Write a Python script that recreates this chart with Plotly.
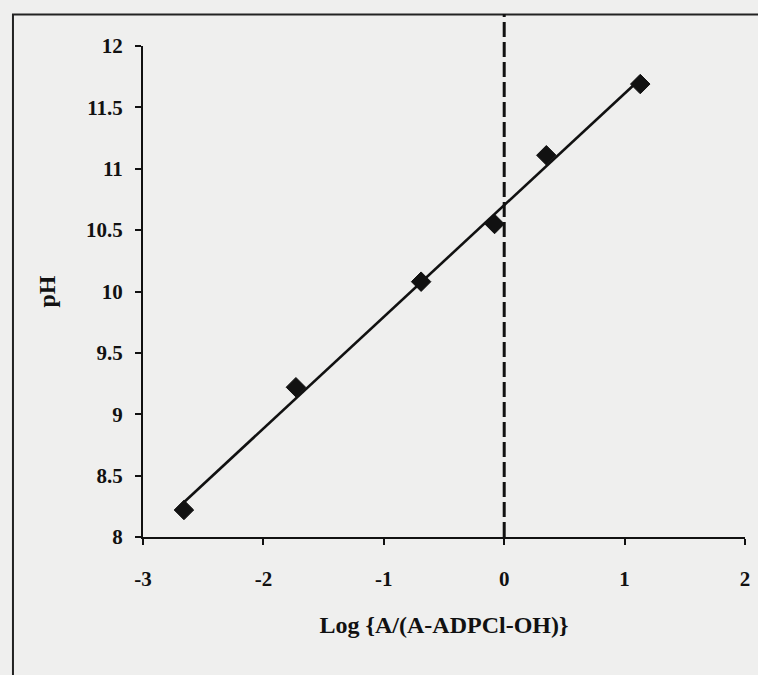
import numpy as np
import plotly.graph_objects as go

# Measured points: log ratio vs pH
log_ratio = [-2.66, -1.73, -0.69, -0.08, 0.35, 1.13]
ph_values = [8.22, 9.22, 10.08, 10.55, 11.11, 11.69]

x_ticks = [-3, -2, -1, 0, 1, 2]
y_ticks = [8, 8.5, 9, 9.5, 10, 10.5, 11, 11.5, 12]
y_tick_text = ["8", "8.5", "9", "9.5", "10", "10.5", "11", "11.5", "12"]

# Least-squares line through the points
slope, intercept = np.polyfit(log_ratio, ph_values, 1)
fit_x = [min(log_ratio), max(log_ratio)]
fit_y = [slope * v + intercept for v in fit_x]

ink = "#111111"
font_family = "Liberation Serif, Times New Roman, serif"

fig = go.Figure()
fig.add_trace(go.Scatter(
    x=fit_x, y=fit_y, mode="lines",
    line=dict(color=ink, width=2.6),
    showlegend=False, hoverinfo="skip",
))
fig.add_trace(go.Scatter(
    x=log_ratio, y=ph_values, mode="markers",
    marker=dict(symbol="diamond", size=15, color=ink,
                line=dict(color=ink, width=1)),
    showlegend=False,
))

# Dashed reference line at x = 0, running up to the frame
fig.add_shape(type="line", xref="x", yref="paper",
              x0=0, x1=0, y0=0, y1=1.065,
              line=dict(color=ink, width=3, dash="15px,5px"))

# Outer frame
fig.add_shape(type="rect", xref="paper", yref="paper",
              x0=-0.216, x1=1.2, y0=-0.5, y1=1.064,
              line=dict(color="#222222", width=2), layer="below")

fig.update_layout(
    width=758, height=675,
    margin=dict(l=143, r=8, t=46, b=138),
    paper_bgcolor="#efefee", plot_bgcolor="#efefee",
    font=dict(family=font_family, size=21, color=ink),
)
fig.update_xaxes(
    range=[-3, 2], tickvals=x_ticks, ticktext=[str(v) for v in x_ticks],
    showgrid=False, zeroline=False, showline=True, linecolor=ink, linewidth=2,
    ticks="outside", ticklen=6, tickwidth=2, tickcolor=ink,
    ticklabelstandoff=16,
    tickfont=dict(family=font_family, size=21, color=ink, weight="bold"),
    title=dict(text="<b>Log {A/(A-ADPCl-OH)}</b>", standoff=26,
               font=dict(family=font_family, size=24, color=ink)),
)
fig.update_yaxes(
    range=[8, 12], tickvals=y_ticks, ticktext=y_tick_text,
    showgrid=False, zeroline=False, showline=True, linecolor=ink, linewidth=2,
    ticks="outside", ticklen=6, tickwidth=2, tickcolor=ink,
    ticklabelstandoff=8,
    tickfont=dict(family=font_family, size=21, color=ink, weight="bold"),
    title=dict(text="<b>pH</b>", standoff=24,
               font=dict(family=font_family, size=24, color=ink)),
)

fig.write_html("out.html")
